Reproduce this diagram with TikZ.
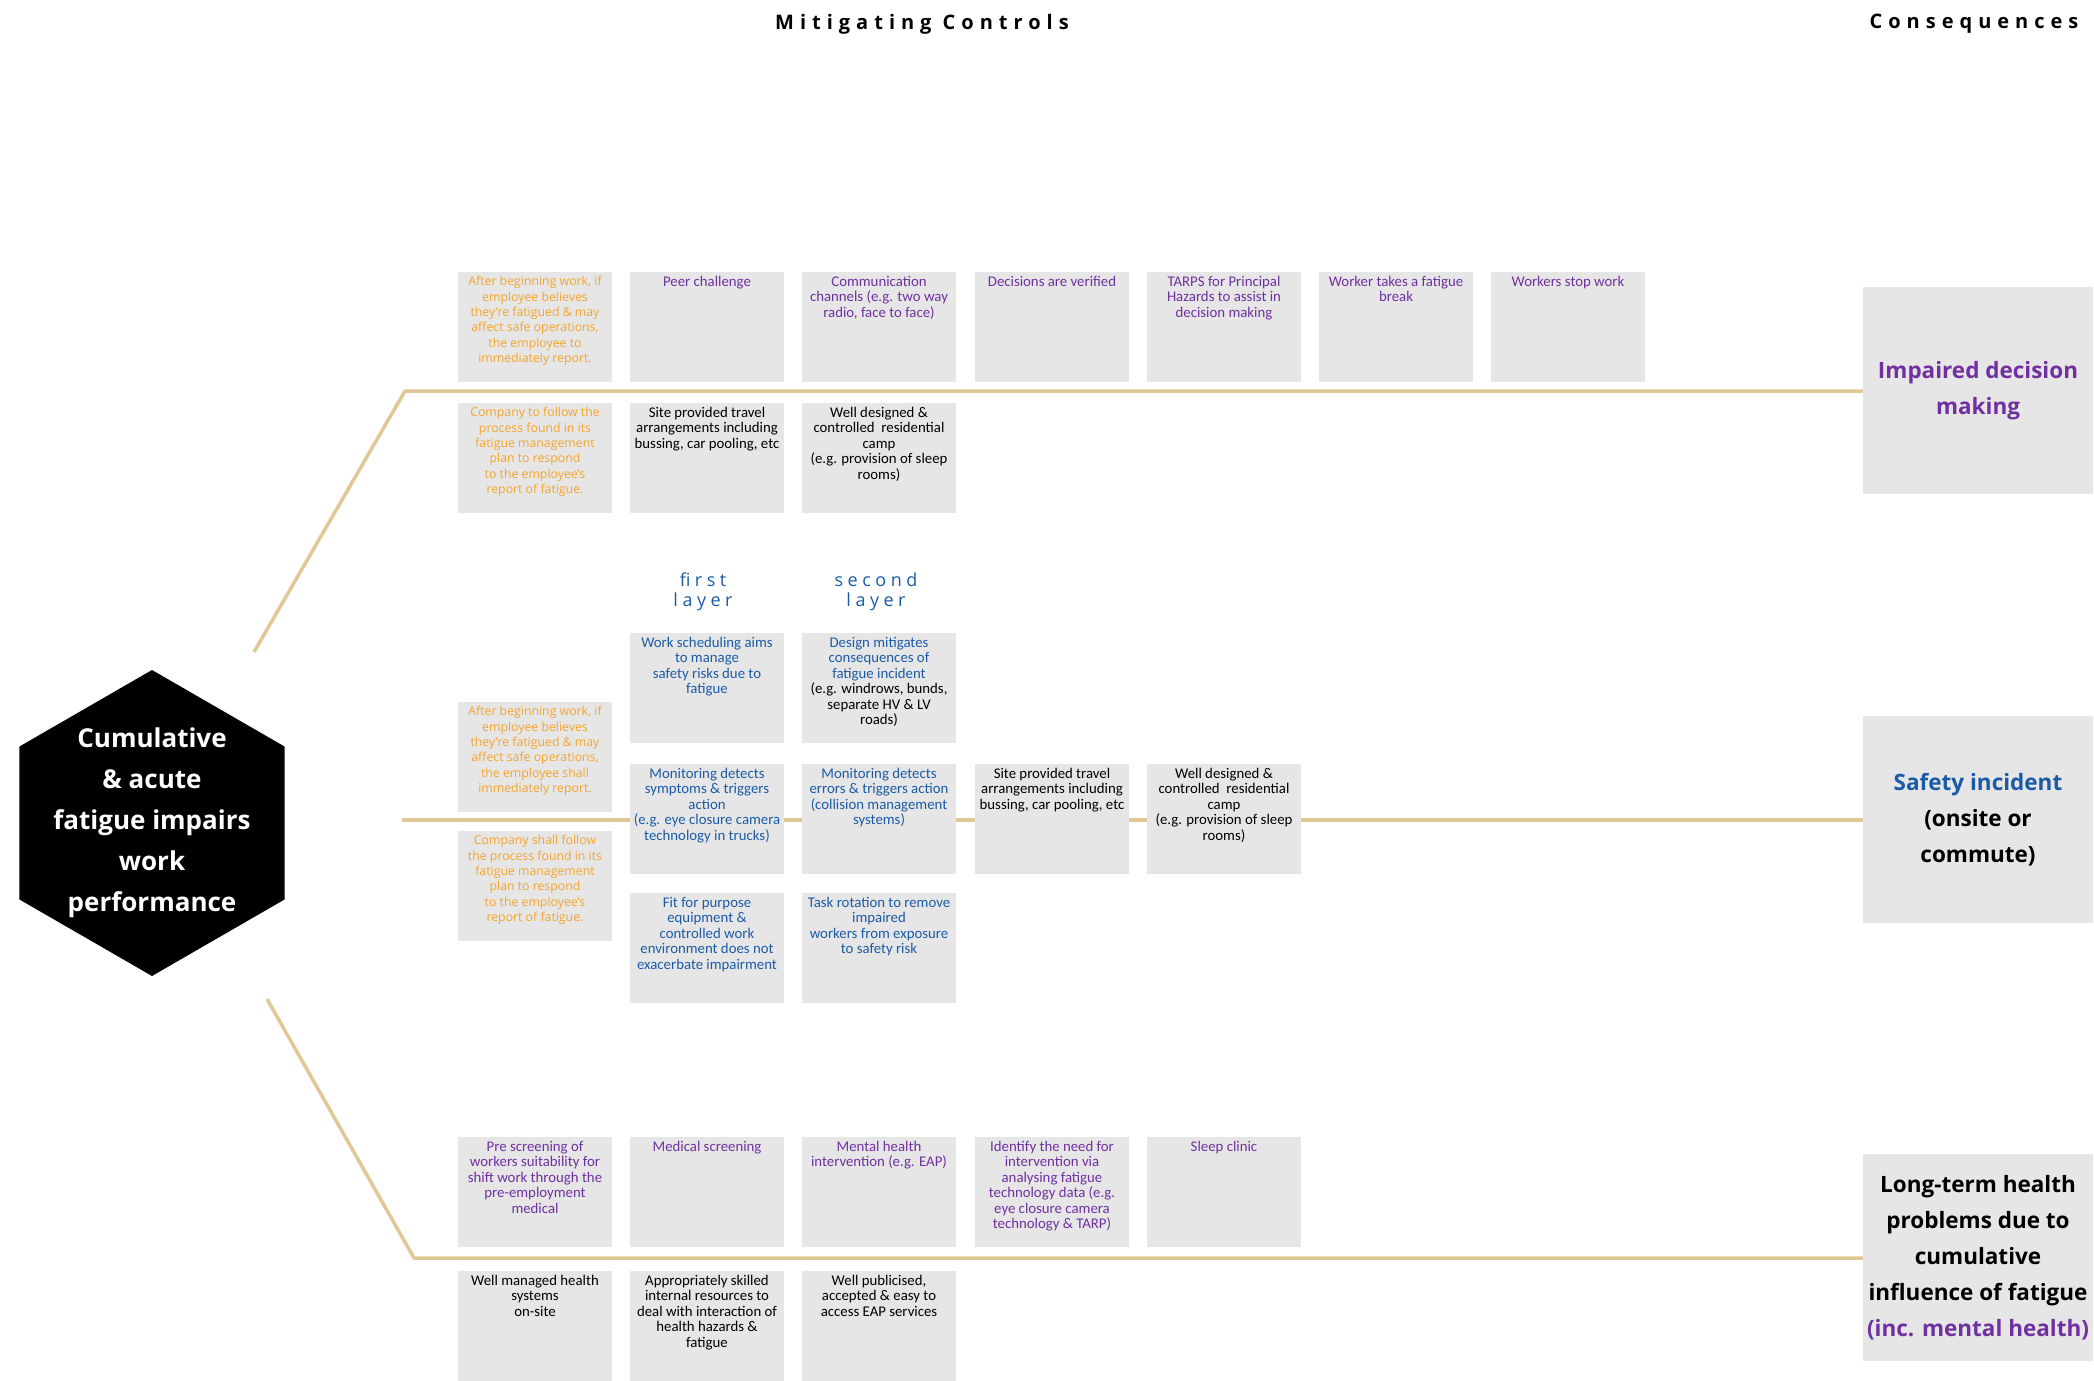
\documentclass[tikz,border=0pt]{standalone}
\usepackage{fontspec}
\setmainfont{Open Sans}
\newfontfamily\carl{Carlito}
\newfontfamily\titlef{Open Sans}[LetterSpace=30]
\newfontfamily\layerf{Open Sans}[LetterSpace=25]
\usetikzlibrary{shapes.geometric,backgrounds}
\definecolor{boxgray}{HTML}{E6E6E6}
\definecolor{linetan}{HTML}{E0C894}
\definecolor{orng}{HTML}{F4A52C}
\definecolor{purp}{HTML}{7030A0}
\definecolor{blu}{HTML}{1B5BA6}
\newcommand\cbx[6]{\node[box] (#1) at (#2,#3) {};
  \node[#4, text=#5] (#1t) at ([yshift=-4pt]#1.north) {#6};}
\begin{document}
\begin{tikzpicture}[x=1pt,y=-1pt,
  box/.style={fill=boxgray, inner sep=0, outer sep=0, minimum width=154pt, minimum height=110pt, anchor=north west},
  ctxt/.style={anchor=north, align=center, inner sep=0, font=\carl\fontsize{14.8}{15.5}\selectfont},
  otxt/.style={anchor=north, align=center, inner sep=0, font=\fontsize{12.3}{15.4}\selectfont},
  conn/.style={draw=linetan, line width=3.5pt, line join=round},
  cons/.style={fill=boxgray, inner sep=0, outer sep=0, minimum width=230pt, minimum height=207pt, align=center, font=\bfseries\fontsize{22.5}{36}\selectfont},
  ttl/.style={font=\titlef\bfseries\fontsize{20}{22}\selectfont},
  layer/.style={align=center, text=blu, font=\layerf\fontsize{18}{20}\selectfont}
]
\useasboundingbox (0,0) rectangle (2094,1381);

% titles
\node[ttl] (tmc) at (922,24) {Mitigating Controls};
\node[ttl] (tcons) at (1974,24) {Consequences};

% hexagon
\node[regular polygon, regular polygon sides=6, shape border rotate=30, minimum size=306pt, inner sep=0, fill=black] (hex) at (152,823) {};
\node[align=center, text=white, font=\bfseries\fontsize{26}{41}\selectfont] (hext) at (hex.center) {Cumulative\\\& acute\\fatigue impairs\\work\\performance};

% consequences
\node[cons, anchor=north west] (imp) at (1863,287) {\color{purp}Impaired decision\\\color{purp}making};
\node[cons, anchor=north west] (saf) at (1863,716) {\color{blu}Safety incident\\(onsite or\\commute)};
\node[cons, anchor=north west] (lt) at (1863,1154) {Long-term health\\problems due to\\cumulative\\influence of fatigue\\\color{purp}(inc. mental health)};

% top group
\cbx{a1}{458}{272}{otxt}{orng}{After beginning work, if\\employee believes\\they're fatigued \& may\\affect safe operations,\\the employee to\\immediately report.}
\cbx{a2}{630}{272}{ctxt}{purp}{Peer challenge}
\cbx{a3}{802}{272}{ctxt}{purp}{Communication\\channels (e.g. two way\\radio, face to face)}
\cbx{a4}{975}{272}{ctxt}{purp}{Decisions are verified}
\cbx{a5}{1147}{272}{ctxt}{purp}{TARPS for Principal\\Hazards to assist in\\decision making}
\cbx{a6}{1319}{272}{ctxt}{purp}{Worker takes a fatigue\\break}
\cbx{a7}{1491}{272}{ctxt}{purp}{Workers stop work}
\cbx{b1}{458}{403}{otxt}{orng}{Company to follow the\\process found in its\\fatigue management\\plan to respond\\to the employee's\\report of fatigue.}
\cbx{b2}{630}{403}{ctxt}{black}{Site provided travel\\arrangements including\\bussing, car pooling, etc}
\cbx{b3}{802}{403}{ctxt}{black}{Well designed \&\\controlled\ \ residential\\camp\\(e.g. provision of sleep\\rooms)}

% layer labels
\node[layer] (l1) at (703,592) {first\\layer};
\node[layer] (l2) at (876,592) {second\\layer};

% middle group
\cbx{m2a}{630}{633}{ctxt}{blu}{Work scheduling aims\\to manage\\safety risks due to\\fatigue}
\cbx{m3a}{802}{633}{ctxt}{blu}{Design mitigates\\consequences of\\fatigue incident\\\color{black}(e.g. windrows, bunds,\\\color{black}separate HV \& LV\\\color{black}roads)}
\cbx{m1u}{458}{702}{otxt}{orng}{After beginning work, if\\employee believes\\they're fatigued \& may\\affect safe operations,\\the employee shall\\immediately report.}
\cbx{m1l}{458}{831}{otxt}{orng}{Company shall follow\\the process found in its\\fatigue management\\plan to respond\\to the employee's\\report of fatigue.}
\cbx{m2b}{630}{764}{ctxt}{blu}{Monitoring detects\\symptoms \& triggers\\action\\(e.g. eye closure camera\\technology in trucks)}
\cbx{m3b}{802}{764}{ctxt}{blu}{Monitoring detects\\errors \& triggers action\\(collision management\\systems)}
\cbx{m4b}{975}{764}{ctxt}{black}{Site provided travel\\arrangements including\\bussing, car pooling, etc}
\cbx{m5b}{1147}{764}{ctxt}{black}{Well designed \&\\controlled\ \ residential\\camp\\(e.g. provision of sleep\\rooms)}
\cbx{m2c}{630}{893}{ctxt}{blu}{Fit for purpose\\equipment \&\\controlled work\\environment does not\\exacerbate impairment}
\cbx{m3c}{802}{893}{ctxt}{blu}{Task rotation to remove\\impaired\\workers from exposure\\to safety risk}

% bottom group
\cbx{p1}{458}{1137}{ctxt}{purp}{Pre screening of\\workers suitability for\\shift work through the\\pre-employment\\medical}
\cbx{p2}{630}{1137}{ctxt}{purp}{Medical screening}
\cbx{p3}{802}{1137}{ctxt}{purp}{Mental health\\intervention (e.g. EAP)}
\cbx{p4}{975}{1137}{ctxt}{purp}{Identify the need for\\intervention via\\analysing fatigue\\technology data (e.g.\\eye closure camera\\technology \& TARP)}
\cbx{p5}{1147}{1137}{ctxt}{purp}{Sleep clinic}
\cbx{q1}{458}{1271}{ctxt}{black}{Well managed health\\systems\\on-site}
\cbx{q2}{630}{1271}{ctxt}{black}{Appropriately skilled\\internal resources to\\deal with interaction of\\health hazards \&\\fatigue}
\cbx{q3}{802}{1271}{ctxt}{black}{Well publicised,\\accepted \& easy to\\access EAP services}

% connectors
\coordinate (t0) at (254,652);
\coordinate (t1) at (405,391);
\coordinate (m0) at (402,820);
\coordinate (b0) at (267,999);
\coordinate (b1) at (414,1258);
\begin{scope}[on background layer]
\draw[conn] (t0) -- (t1) -- (t1 -| imp.west);
\draw[conn] (m0) -- (m0 -| saf.west);
\draw[conn] (b0) -- (b1) -- (b1 -| lt.west);
\end{scope}
\end{tikzpicture}
\end{document}
